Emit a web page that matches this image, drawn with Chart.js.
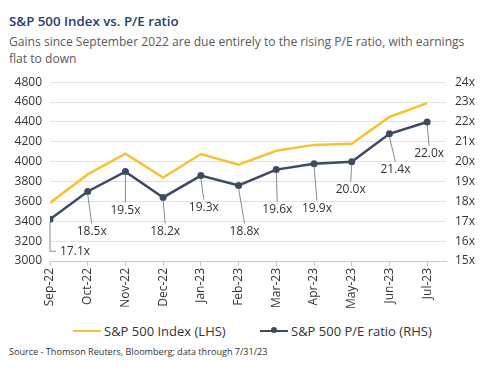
<!DOCTYPE html>
<html>
<head>
<meta charset="utf-8">
<script src="https://cdn.jsdelivr.net/npm/chart.js@4/dist/chart.umd.min.js"></script>
<style>
  body { margin: 0; background: #fff; font-family: "Open Sans", sans-serif; }
  #wrap { position: relative; width: 487px; height: 367px; overflow: hidden; }
  #title { position: absolute; left: 9px; top: 12px; font-size: 13.3px; font-weight: 600; color: #1f3c73; }
  #sub { position: absolute; left: 9px; top: 33px; width: 470px; font-size: 12.1px; line-height: 17px; color: #5a5a5a; }
  #box { position: absolute; left: 0; top: 67px; width: 487px; height: 243px; }
  #legend { position: absolute; top: 322px; left: 0; width: 487px; font-size: 13px; color: #333; }
  .item { position: absolute; top: 0; white-space: nowrap; }
  .swatch { display: inline-block; position: relative; width: 28px; height: 0; border-top: 2.5px solid; vertical-align: middle; margin-right: 3px; top: -2px; }
  .dot { position: absolute; left: 11px; top: -4.5px; width: 6px; height: 6px; border-radius: 50%; background: #3d4a60; }
  #src { position: absolute; left: 9px; top: 345px; font-size: 9.1px; color: #333; }
</style>
</head>
<body>
<div id="wrap">
  <div id="title">S&amp;P 500 Index vs. P/E ratio</div>
  <div id="sub">Gains since September 2022 are due entirely to the rising P/E ratio, with earnings flat to down</div>
  <div id="box"><canvas id="chart"></canvas></div>
  <div id="legend">
    <span class="item" style="left:73px"><span class="swatch" style="border-color:#f6c232"></span>S&amp;P 500 Index (LHS)</span>
    <span class="item" style="left:260px"><span class="swatch" style="border-color:#3d4a60"><span class="dot"></span></span>S&amp;P 500 P/E ratio (RHS)</span>
  </div>
  <div id="src">Source - Thomson Reuters, Bloomberg; data through 7/31/23</div>
</div>
<script>
// данные
const months = ["Sep-22", "Oct-22", "Nov-22", "Dec-22", "Jan-23", "Feb-23", "Mar-23", "Apr-23", "May-23", "Jun-23", "Jul-23"];
const spxIndex = [3585, 3872, 4080, 3840, 4077, 3970, 4109, 4169, 4180, 4450, 4589];
const peRatio = [17.1, 18.5, 19.5, 18.2, 19.3, 18.8, 19.6, 19.9, 20.0, 21.4, 22.0];
const leftTicks = [3000, 3200, 3400, 3600, 3800, 4000, 4200, 4400, 4600, 4800];
const rightTicks = [15, 16, 17, 18, 19, 20, 21, 22, 23, 24];

// смещения подписей P/E в пикселях (dx, dy от точки), true = выноска уголком
const labelOffsets = [
  [25, 32, true], [4, 40], [0, 39], [2, 34], [3, 32], [6, 46],
  [1, 40], [3, 45], [-1, 28], [6, 36], [2, 32]
];

const GOLD = "#f6c232";
const NAVY = "#3d4a60";
const tickFont = { family: "'Open Sans', sans-serif", size: 12 };

// подписи P/E с выносками + подписи правой оси
const leaderLabels = {
  id: "leaderLabels",
  afterDatasetsDraw(chart) {
    const ctx = chart.ctx;
    const meta = chart.getDatasetMeta(1);
    ctx.save();
    ctx.font = "12px 'Open Sans', sans-serif";
    ctx.fillStyle = "#333";
    ctx.strokeStyle = "#8a8a8a";
    ctx.lineWidth = 1;
    meta.data.forEach((pt, i) => {
      const [dx, dy, elbow] = labelOffsets[i];
      const text = peRatio[i].toFixed(1) + "x";
      ctx.beginPath();
      ctx.textBaseline = "middle";
      if (elbow) {
        ctx.moveTo(pt.x, pt.y + 3);
        ctx.lineTo(pt.x, pt.y + dy);
        ctx.lineTo(pt.x + 6, pt.y + dy);
        ctx.stroke();
        ctx.textAlign = "left";
        ctx.fillText(text, pt.x + 10, pt.y + dy);
      } else {
        ctx.moveTo(pt.x, pt.y + 3);
        ctx.lineTo(pt.x + dx, pt.y + dy - 8);
        ctx.stroke();
        ctx.textAlign = "center";
        ctx.fillText(text, pt.x + dx, pt.y + dy);
      }
    });
    ctx.restore();
  },
  afterDraw(chart) {
    const ctx = chart.ctx;
    const s = chart.scales.y1;
    ctx.save();
    ctx.font = "12px 'Open Sans', sans-serif";
    ctx.fillStyle = "#333";
    ctx.textAlign = "left";
    ctx.textBaseline = "middle";
    rightTicks.forEach((v) => {
      ctx.fillText(v + "x", s.left + 9, s.getPixelForValue(v));
    });
    ctx.restore();
  },
};

const ctx = document.getElementById("chart").getContext("2d");
new Chart(ctx, {
  type: "line",
  data: {
    datasets: [
      {
        label: "S&P 500 Index (LHS)",
        data: spxIndex.map((v, i) => ({ x: i, y: v })),
        borderColor: GOLD,
        borderWidth: 2.5,
        pointRadius: 0,
        yAxisID: "y",
      },
      {
        label: "S&P 500 P/E ratio (RHS)",
        data: peRatio.map((v, i) => ({ x: i, y: v })),
        borderColor: NAVY,
        backgroundColor: NAVY,
        borderWidth: 2.5,
        pointRadius: 3.5,
        pointBorderWidth: 0,
        yAxisID: "y1",
      },
    ],
  },
  options: {
    responsive: true,
    maintainAspectRatio: false,
    animation: false,
    layout: { padding: { top: 13, left: 0, right: 0, bottom: 0 } },
    plugins: { legend: { display: false }, tooltip: { enabled: false } },
    scales: {
      x: {
        type: "linear",
        min: 0,
        max: months.length - 0.5,
        afterBuildTicks: (s) => {
          s.ticks = months.map((_, i) => ({ value: i }));
        },
        afterFit: (s) => { s.height = 49; },
        ticks: {
          autoSkip: false,
          maxRotation: 90,
          minRotation: 90,
          padding: 2,
          color: "#333",
          font: tickFont,
          callback: (v) => months[v],
        },
        grid: { drawOnChartArea: false, tickLength: 5, color: "#c8c8c8" },
        border: { color: "#c8c8c8" },
      },
      y: {
        position: "left",
        min: leftTicks[0],
        max: leftTicks[leftTicks.length - 1],
        afterBuildTicks: (s) => {
          s.ticks = leftTicks.map((v) => ({ value: v }));
        },
        afterFit: (s) => { s.width = 50; },
        ticks: {
          autoSkip: false,
          padding: 8,
          color: "#333",
          font: tickFont,
          callback: (v) => String(v),
        },
        grid: { color: "#e2e2e2", drawTicks: false },
        border: { display: false },
      },
      y1: {
        position: "right",
        min: rightTicks[0],
        max: rightTicks[rightTicks.length - 1],
        afterBuildTicks: (s) => {
          s.ticks = rightTicks.map((v) => ({ value: v }));
        },
        afterFit: (s) => { s.width = 41; },
        ticks: { display: false },
        grid: { drawOnChartArea: false, drawTicks: false },
        border: { display: false },
      },
    },
  },
  plugins: [leaderLabels],
});
</script>
</body>
</html>
